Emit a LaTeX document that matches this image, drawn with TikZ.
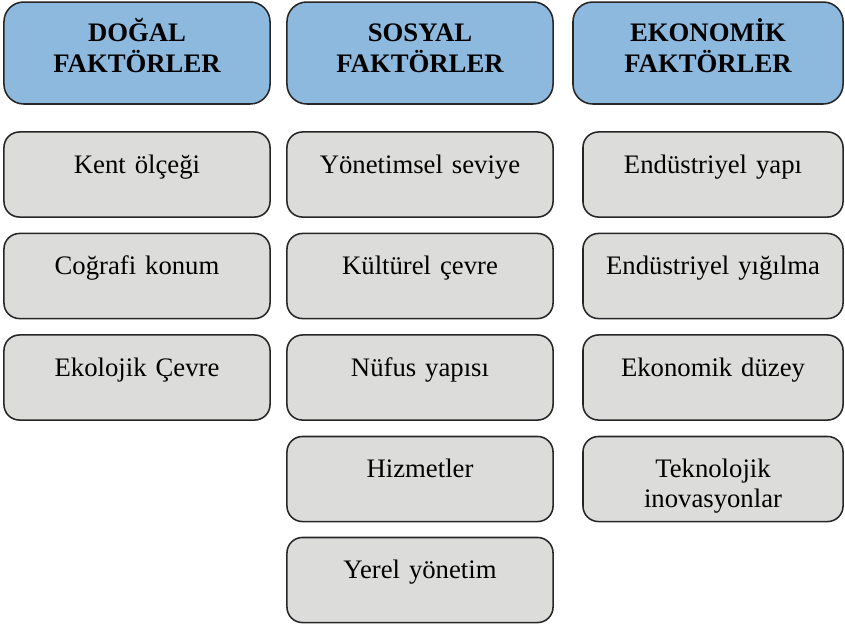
\documentclass[tikz,border=0pt]{standalone}
\usepackage{fontspec}
\setmainfont{Liberation Serif}
\definecolor{hdrblue}{RGB}{141,185,223}
\definecolor{itemgray}{RGB}{220,221,219}
\begin{document}
\begin{tikzpicture}[
        x=0.025cm, y=-0.025cm,
        header/.style={
          draw=black!85,
          line width=1.1pt,
          rounded corners=14pt,
          fill=hdrblue,
          align=center,
          inner sep=0pt,
          text width=6.65cm,
          text height=28.4pt,
          text depth=44.1pt,
          font=\fontsize{19}{22}\selectfont\bfseries
        },
        item/.style={
          draw=black!85,
          line width=1.1pt,
          rounded corners=11pt,
          fill=itemgray,
          align=center,
          inner sep=0pt,
          text width=6.65cm,
          text height=29.2pt,
          text depth=31.3pt,
          font=\fontsize{19}{21.3}\selectfont
        }
      ]
      \useasboundingbox (0,0) rectangle (845,627);

      % column headers
      \node[header] (dogal) at (137,53) {DOĞAL\\FAKTÖRLER};
      \node[header] (sosyal) at (420,53) {SOSYAL\\FAKTÖRLER};
      \node[header, text width=6.75cm] (ekonomik) at (708,53)
        {EKONOMİK\\FAKTÖRLER};

      % natural factors
      \node[item] (kent) at (137,174.5) {Kent ölçeği};
      \node[item] (konum) at (137,276) {Coğrafi konum};
      \node[item] (ekoloji) at (137,377.5) {Ekolojik Çevre};

      % social factors
      \node[item] (yonetimsel) at (420,174.5) {Yönetimsel seviye};
      \node[item] (kultur) at (420,276) {Kültürel çevre};
      \node[item] (nufus) at (420,377.5) {Nüfus yapısı};
      \node[item] (hizmet) at (420,479) {Hizmetler};
      \node[item] (yerel) at (420,580) {Yerel yönetim};

      % economic factors
      \node[item, text width=6.5cm] (yapi) at (713,174.5) {Endüstriyel yapı};
      \node[item, text width=6.5cm] (yigilma) at (713,276)
        {Endüstriyel yığılma};
      \node[item, text width=6.5cm] (duzey) at (713,377.5) {Ekonomik düzey};
      \node[item, text width=6.5cm] (inovasyon) at (713,479)
        {Teknolojik\\inovasyonlar};
    \end{tikzpicture}
\end{document}
